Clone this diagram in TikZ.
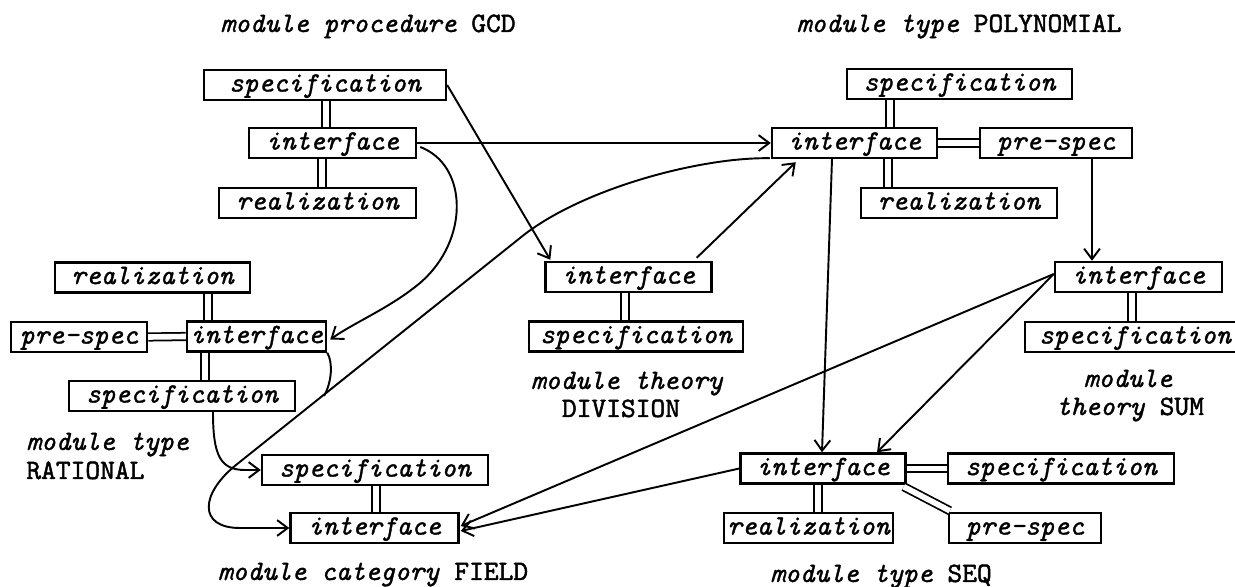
\documentclass[tikz,border=0pt]{standalone}
\usepackage{fontspec}
\setmonofont{lmmono10-regular.otf}[ItalicFont=lmmono10-italic.otf,
  UprightFeatures={FakeBold=1.6}, ItalicFeatures={FakeBold=1.2}]
\usetikzlibrary{arrows.meta,calc}
\begin{document}
\begin{tikzpicture}[x=0.02cm,y=-0.02cm,
  bx/.style={draw, line width=1.4pt, inner sep=0pt, minimum height=30*0.2mm,
    text height=11pt, text depth=3.5pt,
    font=\fontsize{16}{19}\selectfont\ttfamily\itshape},
  bw/.style={minimum width=#1*0.2mm},
  ttl/.style={anchor=base, inner sep=0pt, font=\fontsize{16}{19}\selectfont\ttfamily},
  dbl/.style={double, double distance=3.2pt, line width=1pt},
  arr/.style={line width=1.1pt, -{Straight Barb[length=6pt,width=9pt]}},
  ln/.style={line width=1.1pt}
]
\useasboundingbox (0,0) rectangle (1235,587);

% module procedure GCD
\node[ttl] (t1) at (368,32) {\textit{module procedure} GCD};
\node[bx,bw=242] (gs) at (325,85) {specification};
\node[bx,bw=167] (gi) at (332.5,143) {interface};
\node[bx,bw=197] (gr) at (317.5,203) {realization};

% module type POLYNOMIAL
\node[ttl] (t2) at (959,32) {\textit{module type} POLYNOMIAL};
\node[bx,bw=225] (ps) at (959.5,84) {specification};
\node[bx,bw=165] (pi) at (854.5,143) {interface};
\node[bx,bw=152] (pp) at (1056,143) {pre-spec};
\node[bx,bw=196] (pr) at (959,203) {realization};

% module type RATIONAL
\node[bx,bw=195] (rr) at (152.5,277.5) {realization};
\node[bx,bw=136] (rp) at (79,337) {pre-spec};
\node[bx,bw=139] (ri) at (256.5,336.5) {interface};
\node[bx,bw=226] (rs) at (182,396) {specification};
\node[ttl,anchor=base west] (t3a) at (26,450) {\textit{module type}};
\node[ttl,anchor=base west] (t3b) at (26,479) {RATIONAL};

% module theory DIVISION
\node[bx,bw=166] (di) at (628.5,277) {interface};
\node[bx,bw=214] (ds) at (636,336.5) {specification};
\node[ttl] (t4a) at (627,389) {\textit{module theory}};
\node[ttl] (t4b) at (621,417) {DIVISION};

% module theory SUM
\node[bx,bw=167] (si) at (1138.5,277) {interface};
\node[bx,bw=220] (ss) at (1135,337) {specification};
\node[ttl] (t5a) at (1128,387) {\textit{module}};
\node[ttl] (t5b) at (1130,415) {\textit{theory} SUM};

% module category FIELD
\node[bx,bw=226] (fs) at (375,470) {specification};
\node[bx,bw=168] (fi) at (374.5,528) {interface};
\node[ttl] (t6) at (373,580) {\textit{module category} FIELD};

% module type SEQ
\node[bx,bw=165] (qi) at (823,468.5) {interface};
\node[bx,bw=226] (qs) at (1061,468.5) {specification};
\node[bx,bw=169] (qr) at (808.5,528) {realization};
\node[bx,bw=152] (qp) at (1025,528) {pre-spec};
\node[ttl] (t7) at (881,582) {\textit{module type} SEQ};

% double links inside modules
\draw[dbl] (326,0 |- gs.south) -- (326,0 |- gi.north);
\draw[dbl] (322,0 |- gi.south) -- (322,0 |- gr.north);
\draw[dbl] (890,0 |- ps.south) -- (890,0 |- pi.north);
\draw[dbl] (888,0 |- pi.south) -- (888,0 |- pr.north);
\draw[dbl] (pi.east) -- (pp.west);
\draw[dbl] (208,0 |- rr.south) -- (208,0 |- ri.north);
\draw[dbl] (rp.east) -- (ri.west);
\draw[dbl] (205,0 |- ri.south) -- (205,0 |- rs.north);
\draw[dbl] (625,0 |- di.south) -- (625,0 |- ds.north);
\draw[dbl] (1132,0 |- si.south) -- (1132,0 |- ss.north);
\draw[dbl] (376,0 |- fs.south) -- (376,0 |- fi.north);
\draw[dbl] (qi.east) -- (qs.west);
\draw[dbl] (818,0 |- qi.south) -- (818,0 |- qr.north);
\draw[dbl] ($(qi.south east)+(-3,2)$) -- ($(qp.north west)+(2,-1)$);

% connectors between modules
\draw[arr] (gs.east) -- ($(di.north west)+(6,-1)$);
\draw[arr] (gi.east) -- (pi.west);
\draw[arr] ($(gi.east)+(3,4)$) .. controls (468,165) and (470,240) .. (420,283)
  .. controls (390,308) and (355,322) .. ($(ri.east)+(3,3)$);
\draw[arr] ($(di.north east)+(-16,-3)$) -- ($(pi.south west)+(25,3)$);
\draw[arr] ($(pi.south west)+(-1,-1)$) .. controls (700,157) and (580,189) .. (520,238)
  -- (236,465) .. controls (200,494) and (198,528) .. (240,528) -- (fi.west);
\coordinate (mrg) at (324,396);
\draw[ln] (ri.south east) .. controls (333,362) and (332,382) .. (mrg);
\draw[arr] (213,0 |- rs.south) .. controls (213,455) and (220,470) .. (245,470) -- (fs.west);
\draw[arr] (1092,0 |- pp.south) -- (1092,0 |- si.north);
\draw[arr] (832,0 |- pi.south) -- (822,0 |- qi.north);
\draw[arr] ($(si.west)+(0,-3)$) -- (877,0 |- qi.north);
\draw[arr] ($(si.west)+(0,-3)$) -- ($(fi.east)+(1,-2)$);
\draw[arr] (qi.west) -- ($(fi.east)+(1,3)$);
\end{tikzpicture}
\end{document}
